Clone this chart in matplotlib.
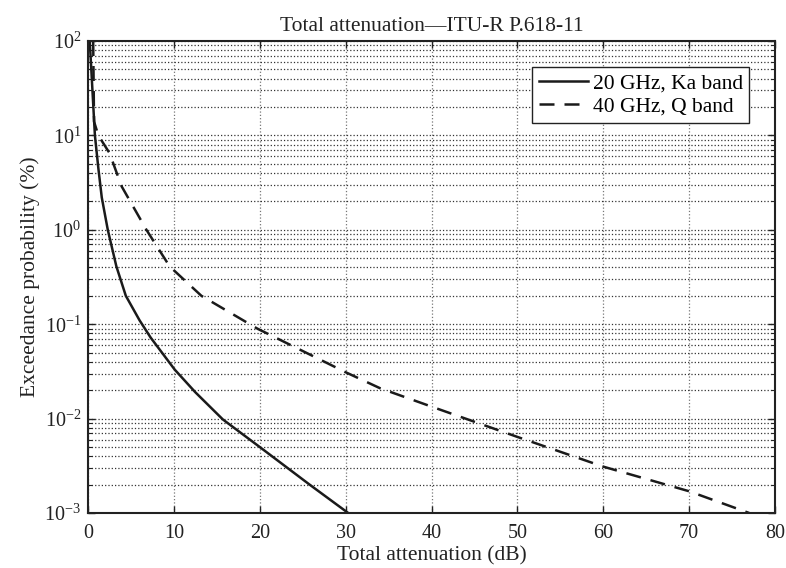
import numpy as np
import matplotlib
matplotlib.use("Agg")
import matplotlib.pyplot as plt
from matplotlib.ticker import LogLocator, LogFormatterMathtext, MultipleLocator, NullFormatter

plt.rcParams["font.family"] = ["Liberation Serif", "DejaVu Serif"]
plt.rcParams["mathtext.fontset"] = "custom"
plt.rcParams["mathtext.rm"] = "Liberation Serif"
plt.rcParams["mathtext.it"] = "Liberation Serif:italic"

# exceedance curves, attenuation (dB) vs probability (%)
ka_att = [0.2, 0.8, 1.2, 1.6, 2.3, 3.3, 4.4, 6.0, 7.3, 10.1, 12.5, 15.7, 20.0, 25.8, 30.3]
ka_prob = [100, 10, 4.5, 2.2, 1.0, 0.41, 0.2, 0.11, 0.072, 0.033, 0.019, 0.0098, 0.005, 0.002, 0.001]

q_att = [0.6, 0.7, 1.2, 2.5, 3.9, 6.8, 9.5, 13.2, 19.7, 30.0, 34.0, 40.0, 50.0, 60.0, 70.0, 77.0]
q_prob = [100, 14, 10, 6.5, 2.9, 1.0, 0.41, 0.2, 0.09, 0.031, 0.021, 0.0134, 0.0064, 0.0031, 0.0017, 0.001]

labels = ["20 GHz, Ka band", "40 GHz, Q band"]

fig = plt.figure(figsize=(7.86, 5.68), dpi=100)
ax = fig.add_axes([0.112, 0.0968, 0.874, 0.831])

ax.plot(ka_att, ka_prob, color="#1a1a1a", linewidth=1.8, label=labels[0])
ax.plot(q_att, q_prob, color="#1a1a1a", linewidth=1.8, dashes=[6, 4], label=labels[1])

ax.set_yscale("log")
ax.set_xlim(0, 80)
ax.set_ylim(1e-3, 1e2)
ax.xaxis.set_major_locator(MultipleLocator(10))
ax.yaxis.set_major_locator(LogLocator(base=10, numticks=10))
ax.yaxis.set_minor_locator(LogLocator(base=10, subs=np.arange(2, 10), numticks=20))
ax.yaxis.set_major_formatter(LogFormatterMathtext())
ax.yaxis.set_minor_formatter(NullFormatter())

ax.grid(True, which="major", axis="x", linestyle=":", color="#777777", linewidth=0.9)
ax.grid(True, which="both", axis="y", linestyle=":", color="#333333", linewidth=0.9)

ax.tick_params(which="both", direction="in", top=True, right=True, labelsize=14.5, colors="#222222")
ax.tick_params(which="major", length=5, width=1.0, pad=5)
ax.tick_params(axis="x", which="major", pad=8)
ax.tick_params(which="minor", length=3, width=0.8)
for s in ax.spines.values():
    s.set_linewidth(1.5)
    s.set_color("#222222")

ax.set_title("Total attenuation\u2014ITU-R P.618-11", fontsize=15.5, color="#222222", pad=7)
ax.set_xlabel("Total attenuation (dB)", fontsize=15.5, color="#222222", labelpad=2)
ax.set_ylabel("Exceedance probability (%)", fontsize=15.5, color="#222222", labelpad=3)

leg = ax.legend(loc="upper right", fontsize=15.5, handlelength=2.3, handletextpad=0.2,
                borderaxespad=1.2, fancybox=False, framealpha=1, borderpad=0.3,
                labelspacing=0.15)
leg.get_frame().set_edgecolor("#222222")
leg.get_frame().set_linewidth(1.0)

fig.savefig("out.png", dpi=100)
